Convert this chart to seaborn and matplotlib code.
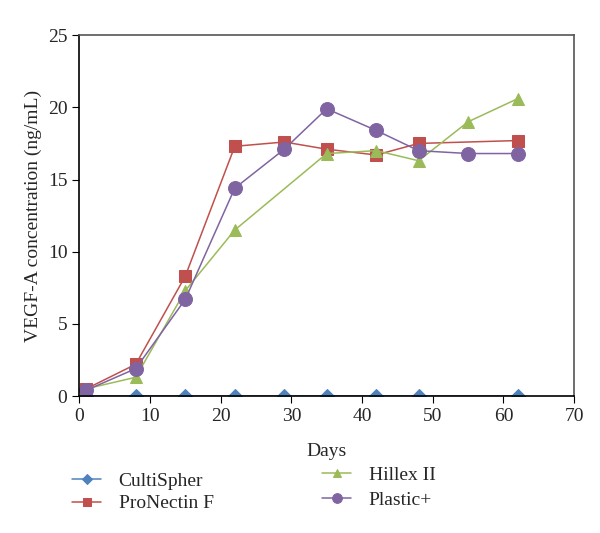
import pandas as pd
import seaborn as sns
import matplotlib.pyplot as plt

# values
days_cultispher = [1, 8, 15, 22, 29, 35, 42, 48, 62]
cultispher = [0, 0, 0, 0, 0, 0, 0, 0, 0]

days_pronectin = [1, 8, 15, 22, 29, 35, 42, 48, 62]
pronectin = [0.5, 2.2, 8.3, 17.3, 17.6, 17.1, 16.7, 17.5, 17.7]

days_hillex = [1, 8, 15, 22, 35, 42, 48, 55, 62]
hillex = [0.5, 1.3, 7.3, 11.5, 16.8, 17.0, 16.3, 19.0, 20.6]

days_plastic = [1, 8, 15, 22, 29, 35, 42, 48, 55, 62]
plastic = [0.4, 1.9, 6.7, 14.4, 17.1, 19.9, 18.4, 17.0, 16.8, 16.8]

series = ["CultiSpher", "ProNectin F", "Hillex II", "Plastic+"]
colors = ["#4F81BD", "#C0504D", "#9BBB59", "#8064A2"]
markers = ["D", "s", "^", "o"]
sizes = [7, 9, 9, 10]

df = pd.concat([
    pd.DataFrame({"Days": days_cultispher, "VEGF": cultispher, "Series": "CultiSpher"}),
    pd.DataFrame({"Days": days_pronectin, "VEGF": pronectin, "Series": "ProNectin F"}),
    pd.DataFrame({"Days": days_hillex, "VEGF": hillex, "Series": "Hillex II"}),
    pd.DataFrame({"Days": days_plastic, "VEGF": plastic, "Series": "Plastic+"}),
])

sns.set_style("ticks")
plt.rcParams["font.family"] = ["Liberation Serif", "DejaVu Serif"]

fig = plt.figure(figsize=(6, 5.33), dpi=100)
ax = fig.add_axes([0.132, 0.257, 0.825, 0.677])

handles = []
for name, c, m, s in zip(series, colors, markers, sizes):
    sub = df[df["Series"] == name]
    sns.lineplot(data=sub, x="Days", y="VEGF", ax=ax, color=c, marker=m,
                 markersize=s, markeredgecolor=c, linewidth=1.1, label=name,
                 legend=False)
    handles.append(ax.lines[-1])

ax.set_xlim(0, 70)
ax.set_ylim(0, 25)
ax.set_xticks(range(0, 71, 10))
ax.set_yticks(range(0, 26, 5))
ax.tick_params(labelsize=14, direction="out", length=5, color="black")
ax.set_xlabel("Days", fontsize=14, labelpad=13)
ax.set_ylabel("VEGF-A concentration (ng/mL)", fontsize=14)
for sp in ["left", "bottom"]:
    ax.spines[sp].set_color("black")
    ax.spines[sp].set_linewidth(1.2)
for sp in ["top", "right"]:
    ax.spines[sp].set_visible(True)
    ax.spines[sp].set_color("#555555")
    ax.spines[sp].set_linewidth(1.2)

leg_kw = dict(loc="upper left", frameon=False, fontsize=14, handlelength=1.5,
              markerscale=0.7, handletextpad=0.9, borderaxespad=0)
fig.legend(handles=handles[:2], labels=series[:2], labelspacing=0.27,
           bbox_to_anchor=(0.107, 0.129), **leg_kw)
fig.legend(handles=handles[2:], labels=series[2:], labelspacing=0.4,
           bbox_to_anchor=(0.524, 0.14), **leg_kw)

fig.savefig("out.png", dpi=100)
